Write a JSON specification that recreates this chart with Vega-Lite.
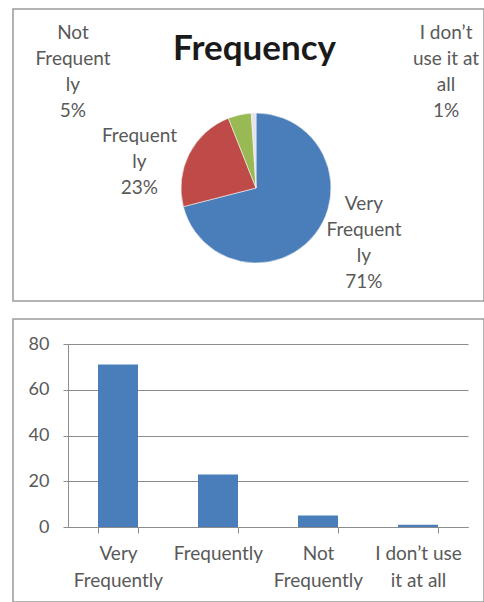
{
  "$schema": "https://vega.github.io/schema/vega-lite/v6.json",
  "padding": {"left": 12, "top": 8, "right": 0, "bottom": 0},
  "background": "white",
  "bounds": "flush",
  "config": {
    "font": "Lato",
    "view": {"stroke": "#9a9a9a", "strokeWidth": 1.5},
    "concat": {"spacing": 18}
  },
  "datasets": {
    "freq": [
      {"category": "Very Frequently", "value": 71, "pie_label": "Very\nFrequent\nly\n71%"},
      {"category": "Frequently", "value": 23, "pie_label": "Frequent\nly\n23%"},
      {"category": "Not Frequently", "value": 5, "pie_label": "Not\nFrequent\nly\n5%"},
      {"category": "I don’t use it at all", "value": 1, "pie_label": "I don’t\nuse it at\nall\n1%"}
    ]
  },
  "vconcat": [
    {
      "width": 471,
      "height": 292,
      "view": {"stroke": "#9a9a9a", "strokeWidth": 1.5},
      "data": {"name": "freq"},
      "title": {
        "text": "Frequency",
        "font": "Lato",
        "fontSize": 35,
        "fontWeight": "bold",
        "color": "#1a1a1a",
        "anchor": "middle",
        "baseline": "alphabetic",
        "offset": -86,
        "dx": 6
      },
      "encoding": {
        "theta": {"field": "value", "type": "quantitative", "stack": true},
        "order": {"field": "value", "type": "quantitative", "sort": "descending"},
        "detail": {"field": "category", "type": "nominal"}
      },
      "layer": [
        {
          "mark": {"type": "arc", "outerRadius": 75, "xOffset": 7.5, "yOffset": 33, "stroke": "#f4f4f4", "strokeWidth": 0.6},
          "encoding": {
            "color": {
              "field": "category",
              "type": "nominal",
              "scale": {
                "domain": ["Very Frequently", "Frequently", "Not Frequently", "I don’t use it at all"],
                "range": ["#4A7EBB", "#BE4B48", "#98B954", "#E4E2EC"]
              },
              "legend": null
            }
          }
        },
        {
          "mark": {"type": "text", "radius": 105, "xOffset": 7.5, "yOffset": 33, "dx": 25, "dy": -48, "lineBreak": "\n", "lineHeight": 26, "fontSize": 19, "fill": "#595959", "align": "center", "baseline": "middle"},
          "encoding": {"text": {"condition": {"test": "datum.category === 'Very Frequently'", "field": "pie_label", "type": "nominal"}, "value": ""}}
        },
        {
          "mark": {"type": "text", "radius": 105, "xOffset": 7.5, "yOffset": 33, "dx": -23, "dy": -4, "lineBreak": "\n", "lineHeight": 26, "fontSize": 19, "fill": "#595959", "align": "center", "baseline": "middle"},
          "encoding": {"text": {"condition": {"test": "datum.category === 'Frequently'", "field": "pie_label", "type": "nominal"}, "value": ""}}
        },
        {
          "mark": {"type": "text", "radius": 30, "xOffset": 7.5, "yOffset": 33, "dx": -176.5, "dy": -125.7, "lineBreak": "\n", "lineHeight": 26, "fontSize": 19, "fill": "#595959", "align": "center", "baseline": "middle"},
          "encoding": {"text": {"condition": {"test": "datum.category === 'Not Frequently'", "field": "pie_label", "type": "nominal"}, "value": ""}}
        },
        {
          "mark": {"type": "text", "radius": 30, "xOffset": 7.5, "yOffset": 33, "dx": 191, "dy": -125, "lineBreak": "\n", "lineHeight": 26, "fontSize": 19, "fill": "#595959", "align": "center", "baseline": "middle"},
          "encoding": {"text": {"condition": {"test": "datum.category === 'I don’t use it at all'", "field": "pie_label", "type": "nominal"}, "value": ""}}
        }
      ]
    },
    {
      "width": 471,
      "height": 283,
      "data": {"name": "freq"},
      "mark": {"type": "bar", "color": "#4A7EBB"},
      "encoding": {
        "x": {
          "field": "category",
          "type": "nominal",
          "sort": null,
          "scale": {"range": [55, 455], "paddingInner": 0.6, "paddingOuter": 0.3},
          "axis": {
            "orient": "bottom",
            "offset": -75,
            "title": null,
            "grid": false,
            "labelAngle": 0,
            "tickBand": "extent",
            "tickSize": 6,
            "tickColor": "#8c8c8c",
            "domainColor": "#8c8c8c",
            "labelPadding": 11,
            "labelFont": "Lato",
            "labelFontSize": 19,
            "labelColor": "#595959",
            "labelLineHeight": 27,
            "labelExpr": "datum.label == 'Very Frequently' ? ['Very', 'Frequently'] : datum.label == 'Not Frequently' ? ['Not', 'Frequently'] : datum.label == 'I don’t use it at all' ? ['I don’t use', 'it at all'] : datum.label"
          }
        },
        "y": {
          "field": "value",
          "type": "quantitative",
          "scale": {"domain": [0, 80], "range": [208, 25], "nice": false},
          "axis": {
            "orient": "left",
            "offset": -55,
            "values": [0, 20, 40, 60, 80],
            "title": null,
            "grid": true,
            "gridColor": "#8c8c8c",
            "gridOpacity": 1,
            "domain": true,
            "domainColor": "#8c8c8c",
            "tickSize": 5,
            "tickColor": "#8c8c8c",
            "labelPadding": 14,
            "labelFont": "Lato",
            "labelFontSize": 18,
            "labelColor": "#595959"
          }
        }
      }
    }
  ]
}
